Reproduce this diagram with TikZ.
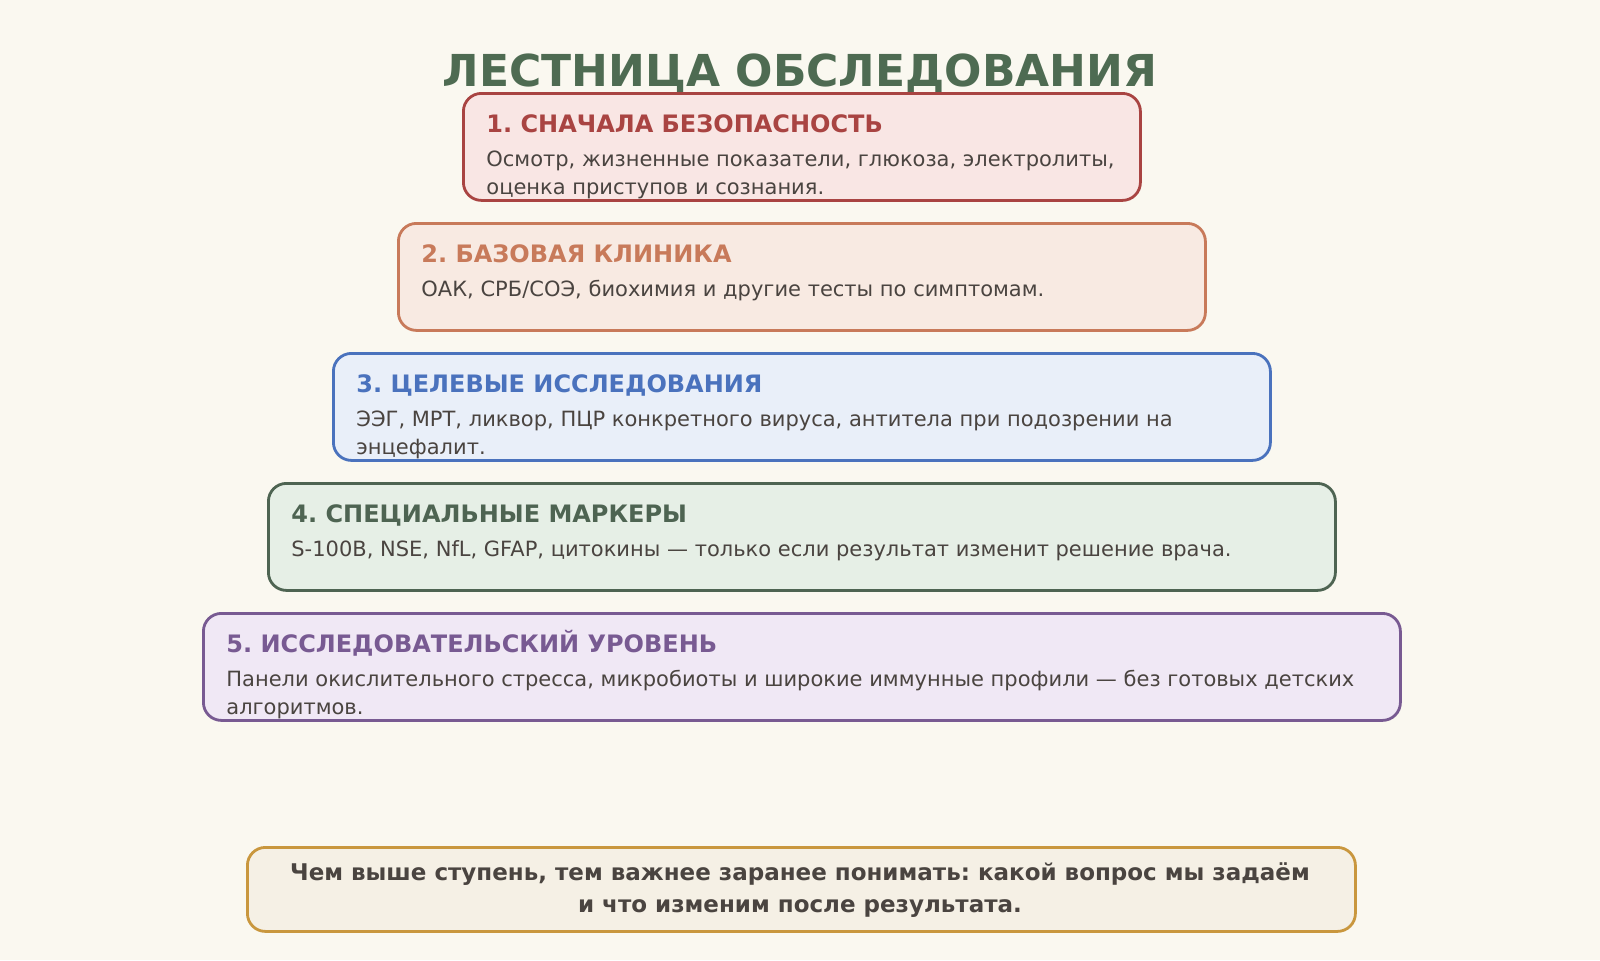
\documentclass[tikz,border=0pt]{standalone}
\usepackage{fontspec}
\setmainfont{DejaVu Sans}
\usepackage{xcolor}
\usepackage{tikz}
\usetikzlibrary{positioning,calc}
\definecolor{PaperBg}{HTML}{FAF8F0}
\definecolor{TitleGreen}{HTML}{4E6B52}
\definecolor{BodyGray}{HTML}{4A4440}
\definecolor{RedLine}{HTML}{A94442}
\definecolor{RedFill}{HTML}{F9E6E4}
\definecolor{OrangeLine}{HTML}{C87A5A}
\definecolor{OrangeFill}{HTML}{F8EAE2}
\definecolor{BlueLine}{HTML}{4A72BD}
\definecolor{BlueFill}{HTML}{E9EFF9}
\definecolor{GreenLine}{HTML}{4E6452}
\definecolor{GreenFill}{HTML}{E6EFE6}
\definecolor{PurpleLine}{HTML}{785A92}
\definecolor{PurpleFill}{HTML}{F0E8F5}
\definecolor{GoldLine}{HTML}{C9973E}
\definecolor{GoldFill}{HTML}{F5F0E5}
\frenchspacing

\begin{document}
\begin{tikzpicture}[x=0.5pt, y=-0.5pt,
					stepbox/.style={
						rectangle,
						rounded corners=9pt,
						line width=1.4pt,
						anchor=north west,
						inner sep=0pt,
						minimum height=53.5pt
					},
					stephead/.style={
						anchor=base west,
						inner sep=0pt,
						font=\fontsize{12}{15}\selectfont\bfseries
					},
					stepbody/.style={
						anchor=base west,
						inner sep=0pt,
						align=left,
						text=BodyGray,
						font=\fontsize{10.5}{14}\selectfont
					}
					]
					% background and page size
					\fill[PaperBg] (0,0) rectangle (1600,960);
					\useasboundingbox (0,0) rectangle (1600,960);
					
					\node[anchor=base, inner sep=0pt, text=TitleGreen,
						font=\fontsize{22}{26}\selectfont\bfseries] (title) at (800,86) {ЛЕСТНИЦА ОБСЛЕДОВАНИЯ};
					
					% the five steps (base of a two-line text = its last line)
					\node[stepbox, draw=RedLine, fill=RedFill, minimum width=338.5pt] (s1) at (462,92) {};
					\node[stephead, text=RedLine] (h1) at ($(s1.north west)+(24,40)$) {1. СНАЧАЛА БЕЗОПАСНОСТЬ};
					\node[stepbody] (b1) at ($(s1.north west)+(24,102)$) {Осмотр, жизненные показатели, глюкоза, электролиты,\\оценка приступов и сознания.};
					
					\node[stepbox, draw=OrangeLine, fill=OrangeFill, minimum width=403.5pt] (s2) at (397,222) {};
					\node[stephead, text=OrangeLine] (h2) at ($(s2.north west)+(24,40)$) {2. БАЗОВАЯ КЛИНИКА};
					\node[stepbody] (b2) at ($(s2.north west)+(24,74)$) {ОАК, СРБ/СОЭ, биохимия и другие тесты по симптомам.};
					
					\node[stepbox, draw=BlueLine, fill=BlueFill, minimum width=468.5pt] (s3) at (332,352) {};
					\node[stephead, text=BlueLine] (h3) at ($(s3.north west)+(24,40)$) {3. ЦЕЛЕВЫЕ ИССЛЕДОВАНИЯ};
					\node[stepbody] (b3) at ($(s3.north west)+(24,102)$) {ЭЭГ, МРТ, ликвор, ПЦР конкретного вируса, антитела при подозрении на\\энцефалит.};
					
					\node[stepbox, draw=GreenLine, fill=GreenFill, minimum width=533.5pt] (s4) at (267,482) {};
					\node[stephead, text=GreenLine] (h4) at ($(s4.north west)+(24,40)$) {4. СПЕЦИАЛЬНЫЕ МАРКЕРЫ};
					\node[stepbody] (b4) at ($(s4.north west)+(24,74)$) {S-100B, NSE, NfL, GFAP, цитокины — только если результат изменит решение врача.};
					
					\node[stepbox, draw=PurpleLine, fill=PurpleFill, minimum width=598.5pt] (s5) at (202,612) {};
					\node[stephead, text=PurpleLine] (h5) at ($(s5.north west)+(24,40)$) {5. ИССЛЕДОВАТЕЛЬСКИЙ УРОВЕНЬ};
					\node[stepbody] (b5) at ($(s5.north west)+(24,102)$) {Панели окислительного стресса, микробиоты и широкие иммунные профили — без готовых детских\\алгоритмов.};
					
					% closing note
					\node[stepbox, draw=GoldLine, fill=GoldFill, minimum width=554pt, minimum height=42pt] (note) at (246,846) {};
					\node[anchor=base, inner sep=0pt, align=center, text=BodyGray,
						font=\fontsize{11.5}{15.8}\selectfont\bfseries] (notetext) at (800,912) {Чем выше ступень, тем важнее заранее понимать: какой вопрос мы задаём\\и что изменим после результата.};
				\end{tikzpicture}
\end{document}
